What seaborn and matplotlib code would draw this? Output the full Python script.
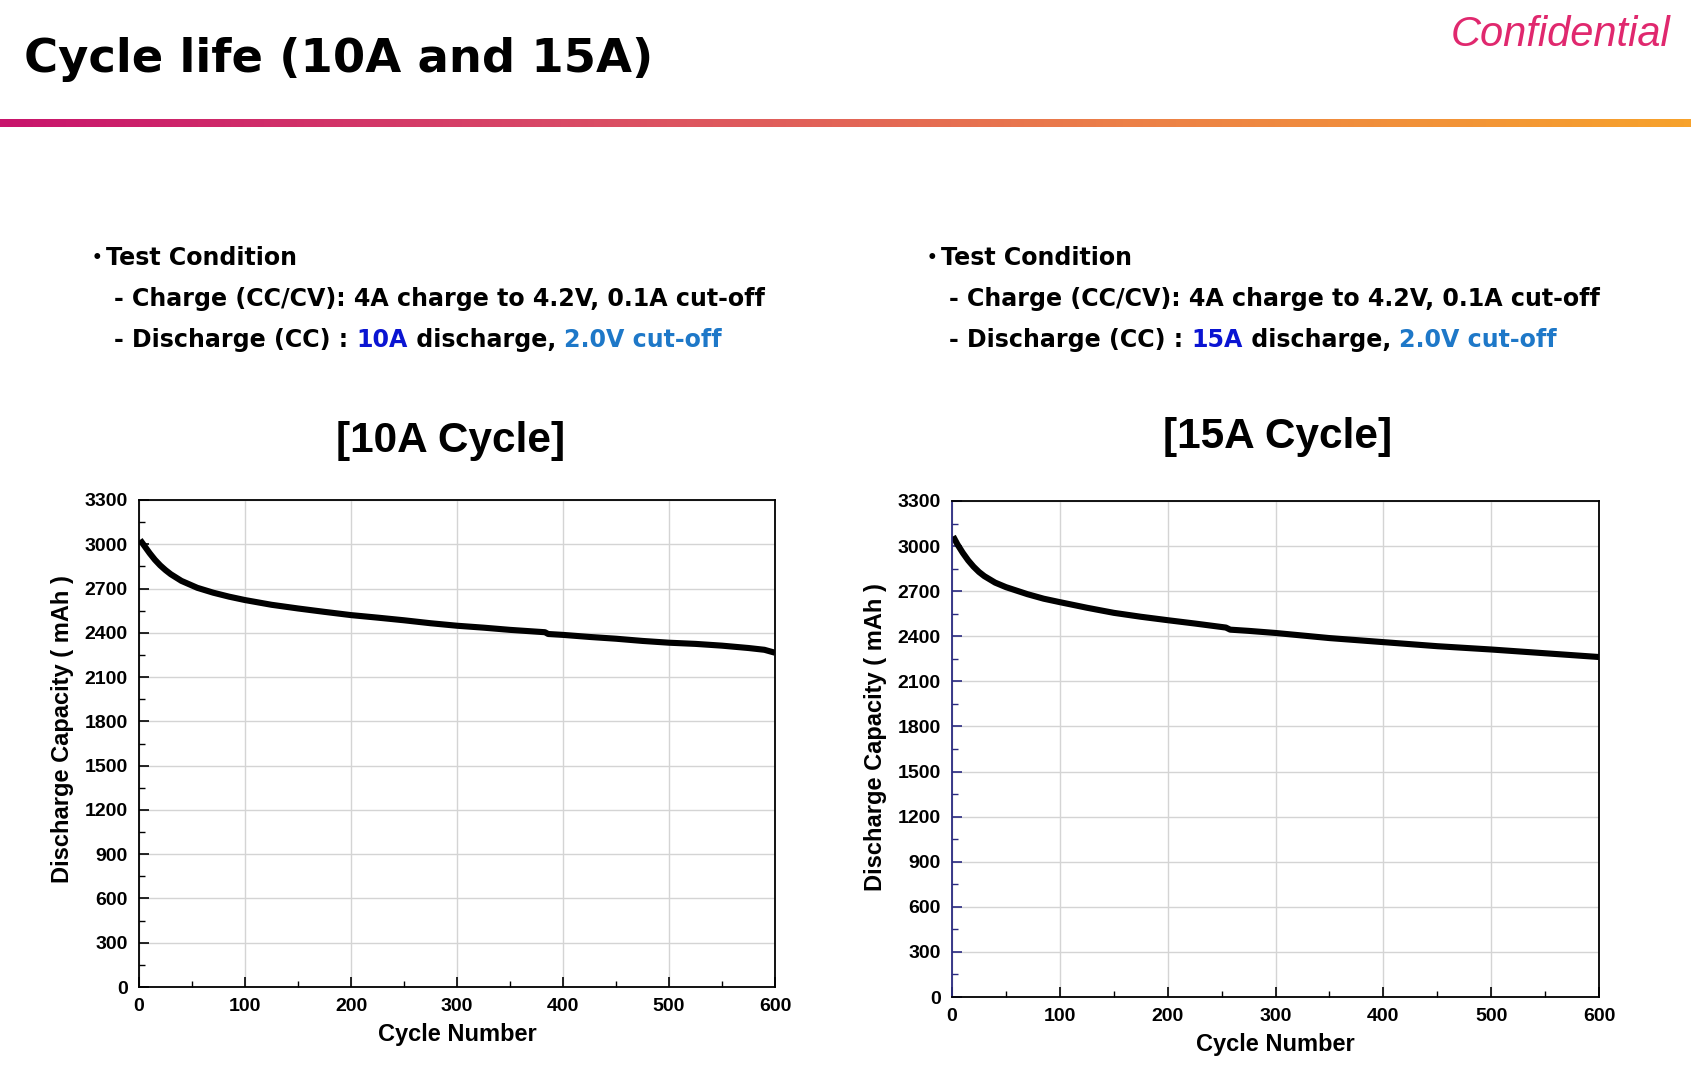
import numpy as np
import pandas as pd
import matplotlib
matplotlib.use("Agg")
import matplotlib.pyplot as plt
from matplotlib.colors import LinearSegmentedColormap
from matplotlib.ticker import MultipleLocator
import seaborn as sns

# ---------------- data ----------------
cycles_10a = [1, 5, 10, 15, 20, 25, 30, 40, 55, 70, 85, 100, 125, 150, 175, 200, 225, 250,
              275, 300, 325, 350, 383, 386, 400, 425, 450, 475, 500, 525, 550, 575, 590, 600]
capacity_10a = [3030, 2990, 2940, 2895, 2857, 2825, 2797, 2752, 2705, 2672, 2645, 2622,
                2590, 2565, 2542, 2520, 2503, 2485, 2465, 2448, 2435, 2420, 2404, 2392,
                2386, 2372, 2360, 2345, 2333, 2325, 2313, 2297, 2285, 2265]

cycles_15a = [1, 5, 10, 15, 20, 25, 30, 40, 50, 70, 85, 100, 125, 150, 175, 200, 225, 254,
              258, 275, 300, 350, 400, 450, 500, 550, 600]
capacity_15a = [3065, 3012, 2955, 2905, 2863, 2828, 2800, 2757, 2727, 2680, 2650, 2627,
                2590, 2556, 2530, 2507, 2485, 2458, 2444, 2436, 2422, 2388, 2361, 2334,
                2312, 2287, 2262]

panel_titles = ["[10A Cycle]", "[15A Cycle]"]
currents = ["10A", "15A"]
x_label = "Cycle Number"
y_label = "Discharge Capacity ( mAh )"
heading = "Cycle life (10A and 15A)"
confidential = "Confidential"

# ---------------- style ----------------
sns.set_theme(style="white")
plt.rcParams["font.family"] = ["DejaVu Sans"]
plt.rcParams["text.color"] = "black"
plt.rcParams["axes.labelcolor"] = "black"
plt.rcParams["xtick.color"] = "black"
plt.rcParams["ytick.color"] = "black"

W, H = 1700, 1078
fig = plt.figure(figsize=(W / 100, H / 100), dpi=100)
fig.patch.set_facecolor("white")


def fx(px):
    return px / W


def fy(py):
    return 1 - py / H


# heading and confidential mark
fig.text(fx(24), fy(60), heading, fontsize=33.5, fontweight="bold",
         family="DejaVu Sans", va="center", ha="left", color="black")
fig.text(fx(1670), fy(35), confidential, fontsize=30, style="italic",
         family="Liberation Sans", va="center", ha="right", color="#E0286E")

# gradient bar
gax = fig.add_axes([0, fy(127), fx(1691), 8 / H])
cmap = LinearSegmentedColormap.from_list("bar", ["#C8146C", "#D94A66", "#EC8048", "#F7A22C"])
gax.imshow(np.linspace(0, 1, 512)[None, :], aspect="auto", cmap=cmap)
gax.axis("off")

# test condition text blocks
renderer = fig.canvas.get_renderer()
TXT_SIZE = 17.1


def colored_line(x_px, y_px, parts, size=TXT_SIZE):
    x = x_px
    for txt, col in parts:
        t = fig.text(fx(x), fy(y_px), txt, fontsize=size, fontweight="bold",
                     color=col, va="center", ha="left", family="DejaVu Sans")
        bb = t.get_window_extent(renderer=renderer)
        x += bb.width


for bx, cur in zip([92, 927], currents):
    fig.text(fx(bx), fy(258), "•", fontsize=12, fontweight="bold", va="center", ha="left")
    fig.text(fx(bx + 14), fy(258), "Test Condition", fontsize=TXT_SIZE, fontweight="bold",
             va="center", ha="left")
    colored_line(bx + 22, 299, [("- Charge (CC/CV): 4A charge to 4.2V, 0.1A cut-off", "black")])
    colored_line(bx + 22, 340, [("- Discharge (CC) : ", "black"), (cur, "#0A14D2"),
                                (" discharge, ", "black"), ("2.0V cut-off", "#1E78C8")])

# ---------------- charts ----------------
axes_rects = [
    [fx(139), fy(987), fx(775) - fx(139), fy(500) - fy(987)],
    [fx(952), fy(997), fx(1599) - fx(952), fy(501) - fy(997)],
]
title_pos = [(451, 441), (1278, 437)]
ylabel_y = [0.53, 0.524]
series = [(cycles_10a, capacity_10a), (cycles_15a, capacity_15a)]

for i, (rect, (cyc, cap)) in enumerate(zip(axes_rects, series)):
    ax = fig.add_axes(rect)
    df = pd.DataFrame({"cycle": cyc, "capacity": cap})
    sns.lineplot(data=df, x="cycle", y="capacity", ax=ax, color="black",
                 linewidth=4.4, solid_capstyle="butt")
    ax.set_xlim(0, 600)
    ax.set_ylim(0, 3300)
    ax.xaxis.set_major_locator(MultipleLocator(100))
    ax.xaxis.set_minor_locator(MultipleLocator(50))
    ax.yaxis.set_major_locator(MultipleLocator(300))
    ax.yaxis.set_minor_locator(MultipleLocator(150))
    ax.grid(True, which="major", color="#D4D4D4", linewidth=1.0)
    ax.set_axisbelow(True)
    for s in ax.spines.values():
        s.set_color("black")
        s.set_linewidth(1.3)
    ax.tick_params(axis="both", which="major", direction="in", length=7, width=1.2,
                   labelsize=14, pad=8, color="black", labelcolor="black")
    ax.tick_params(axis="both", which="minor", direction="in", length=4, width=1.0,
                   color="black")
    ax.tick_params(axis="x", which="both", bottom=True, top=False)
    ax.tick_params(axis="y", which="both", left=True, right=False)
    for lab in ax.get_xticklabels() + ax.get_yticklabels():
        lab.set_fontweight("bold")
        lab.set_family("Liberation Sans")
    if i == 1:
        ax.spines["left"].set_color("#2A2A80")
        ax.tick_params(axis="y", which="both", color="#2A2A80")
    ax.set_xlabel(x_label, fontsize=17, fontweight="bold", family="Liberation Sans",
                  labelpad=6, color="black")
    ax.set_ylabel(y_label, fontsize=17, fontweight="bold", family="Liberation Sans",
                  labelpad=8, color="black")
    ax.yaxis.label.set_y(ylabel_y[i])
    tx, ty = title_pos[i]
    fig.text(fx(tx), fy(ty), panel_titles[i], fontsize=30.5, fontweight="bold",
             family="Liberation Sans", ha="center", va="center", color="black")

fig.savefig("out.png", dpi=100, facecolor="white")
